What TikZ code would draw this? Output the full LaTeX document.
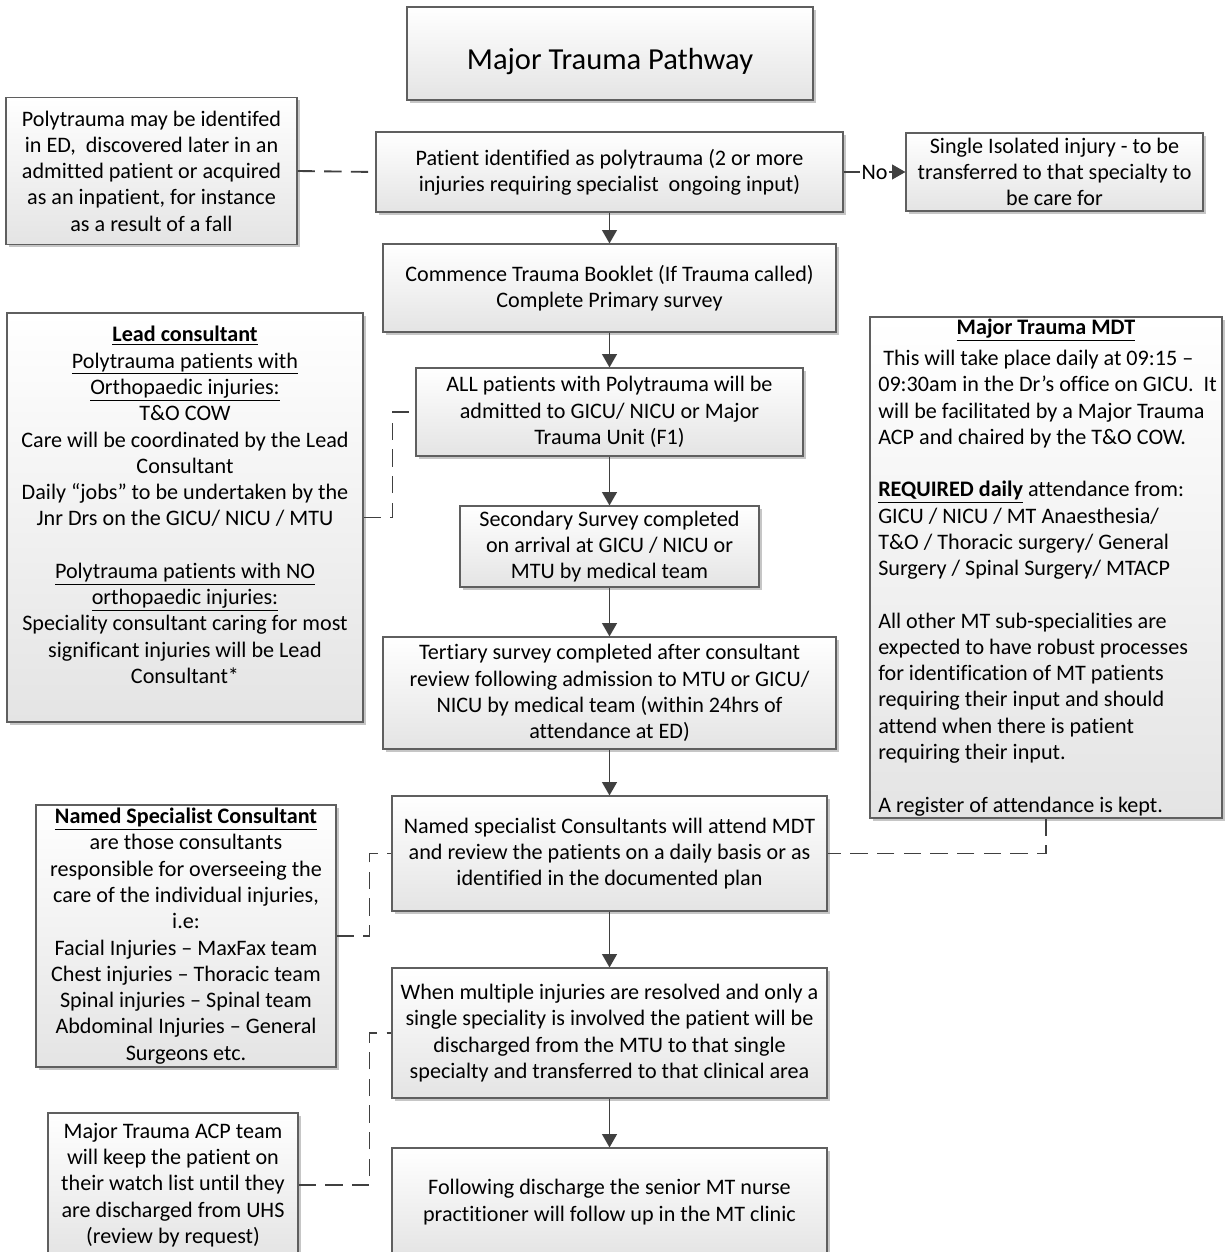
\documentclass[tikz,border=0pt]{standalone}
\usepackage{fontspec}
\setmainfont{Carlito}[Ligatures={TeX,NoCommon}]
\usetikzlibrary{arrows.meta,shadows}

\definecolor{boxline}{HTML}{5F5F5F}
\definecolor{boxfill}{HTML}{E4E4E4}
\definecolor{shadowgray}{HTML}{C6C6C6}
\definecolor{linkgray}{HTML}{404040}

% lengths are given in pixel units of the layout grid
\newcommand\pxu[1]{#1*0.75pt}
\newcommand\bodyfont{\fontsize{16.6pt}{19.7pt}\selectfont}
\newcommand\headfont{\fontsize{22.9pt}{27pt}\selectfont}

\tikzset{
  box/.style={rectangle, draw=boxline, line width=0.8pt, top color=white,
    bottom color=boxfill, align=center, inner sep=0pt, font=\bodyfont,
    drop shadow={shadow xshift=2.2pt, shadow yshift=-2.2pt, fill=shadowgray, opacity=1}},
  boxtext/.style={inner sep=0pt, align=center, font=\bodyfont},
  flow/.style={draw=linkgray, line width=1.45pt, -{Triangle[length=10pt,width=11pt]}},
  dashlink/.style={draw=linkgray, line width=1.4pt, dash pattern=on 13pt off 7pt},
}

\begin{document}
\begin{tikzpicture}[x=0.75pt, y=-0.75pt]
\fill[white] (0,0) rectangle (1224,1252);
\useasboundingbox (0,0) rectangle (1224,1252);

% title
\node[box, minimum width=\pxu{406}, minimum height=\pxu{93}] (title) at (610,53.5) {};
\node[boxtext, font=\headfont] (titletext) at (610,62) {Major Trauma Pathway};

% main flow
\node[box, minimum width=\pxu{467}, minimum height=\pxu{80}] (p1) at (609.5,172)
  {Patient identified as polytrauma (2 or more\\ injuries requiring specialist\ \ ongoing input)};
\node[box, minimum width=\pxu{453}, minimum height=\pxu{88}] (p2) at (609.5,288)
  {Commence Trauma Booklet (If Trauma called)\\ Complete Primary survey};
\node[box, minimum width=\pxu{387}, minimum height=\pxu{88}] (p3) at (609.5,412)
  {ALL patients with Polytrauma will be\\ admitted to GICU/ NICU or Major\\ Trauma Unit (F1)};
\node[box, minimum width=\pxu{299}, minimum height=\pxu{81}] (p4) at (609.5,546.5)
  {Secondary Survey completed\\ on arrival at GICU / NICU or\\ MTU by medical team};
\node[box, minimum width=\pxu{453}, minimum height=\pxu{112}] (p5) at (609.5,693)
  {Tertiary survey completed after consultant\\ review following admission to MTU or GICU/\\ NICU by medical team (within 24hrs of\\ attendance at ED)};
\node[box, minimum width=\pxu{435}, minimum height=\pxu{115}] (p6) at (609.5,853.5)
  {Named specialist Consultants will attend MDT\\ and review the patients on a daily basis or as\\ identified in the documented plan};
\node[box, minimum width=\pxu{435}, minimum height=\pxu{130}] (p7) at (609.5,1033)
  {When multiple injuries are resolved and only a\\ single speciality is involved the patient will be\\ discharged from the MTU to that single\\ specialty and transferred to that clinical area};
\node[box, minimum width=\pxu{435}, minimum height=\pxu{108}] (p8) at (609.5,1202)
  {Following discharge the senior MT nurse\\ practitioner will follow up in the MT clinic};

% side notes
\node[box, minimum width=\pxu{291}, minimum height=\pxu{147}] (origin) at (151.5,171)
  {Polytrauma may be identifed\\ in ED,\ \ discovered later in an\\ admitted patient or acquired\\ as an inpatient, for instance\\ as a result of a fall};
\node[box, minimum width=\pxu{297}, minimum height=\pxu{78}] (single) at (1054.5,172)
  {Single Isolated injury - to be\\ transferred to that specialty to\\ be care for};

\node[box, minimum width=\pxu{356}, minimum height=\pxu{409}] (lead) at (185,517.5) {};
\node[boxtext] (leadtext) at (185,505)
  {\textbf{\underline{Lead consultant}}\\
   \underline{Polytrauma patients with}\\
   \underline{Orthopaedic injuries:}\\
   T\&O COW\\
   Care will be coordinated by the Lead\\
   Consultant\\
   Daily “jobs” to be undertaken by the\\
   Jnr Drs on the GICU/ NICU / MTU\\[19.7pt]
   \underline{Polytrauma patients with NO}\\
   \underline{orthopaedic injuries:}\\
   Speciality consultant caring for most\\
   significant injuries will be Lead\\
   Consultant*};

\node[box, minimum width=\pxu{352}, minimum height=\pxu{501}] (mdt) at (1046,567.5) {};
\node[boxtext] (mdthead) at (1046,330) {\textbf{\underline{Major Trauma MDT}}};
\node[boxtext, align=left, anchor=west] (mdtbody) at (878,583)
  {\ This will take place daily at 09:15 –\\
   09:30am in the Dr’s office on GICU.\ \ It\\
   will be facilitated by a Major Trauma\\
   ACP and chaired by the T\&O COW.\\[19.7pt]
   \textbf{\underline{REQUIRED daily}} attendance from:\\
   GICU / NICU / MT Anaesthesia/\\
   T\&O / Thoracic surgery/ General\\
   Surgery / Spinal Surgery/ MTACP\\[19.7pt]
   All other MT sub-specialities are\\
   expected to have robust processes\\
   for identification of MT patients\\
   requiring their input and should\\
   attend when there is patient\\
   requiring their input.\\[19.7pt]
   A register of attendance is kept.};

\node[box, minimum width=\pxu{300}, minimum height=\pxu{262}] (named) at (186,936)
  {\textbf{\underline{Named Specialist Consultant}}\\
   are those consultants\\
   responsible for overseeing the\\
   care of the individual injuries,\\
   i.e:\\
   Facial Injuries – MaxFax team\\
   Chest injuries – Thoracic team\\
   Spinal injuries – Spinal team\\
   Abdominal Injuries – General\\
   Surgeons etc.};

\node[box, minimum width=\pxu{250}, minimum height=\pxu{144}] (acp) at (173,1185)
  {Major Trauma ACP team\\ will keep the patient on\\ their watch list until they\\ are discharged from UHS\\ (review by request)};

% flow arrows
\draw[flow] (p1) -- (p2);
\draw[flow] (p2) -- (p3);
\draw[flow] (p3) -- (p4);
\draw[flow] (p4) -- (p5);
\draw[flow] (p5) -- (p6);
\draw[flow] (p6) -- (p7);
\draw[flow] (p7) -- (p8);
\draw[flow] (p1.east) -- node[fill=white, inner sep=1pt, font=\bodyfont] (nolabel) {No} (single.west);

% dashed associations
\draw[dashlink] (origin.east) -- (p1.west);
\draw[dashlink] (lead.east) -- ++(29,0) |- (p3.west);
\draw[dashlink] (named.east) -- ++(33,0) |- (p6.west);
\draw[dashlink] (acp.east) -- ++(71,0) |- (p7.west);
\draw[dashlink] (mdt.south) |- (p6.east);
\end{tikzpicture}
\end{document}
